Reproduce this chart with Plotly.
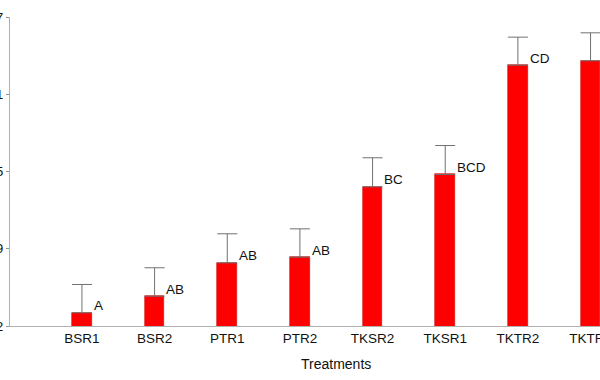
import plotly.graph_objects as go

treatments = ["BSR1", "BSR2", "PTR1", "PTR2", "TKSR2", "TKSR1", "TKTR2", "TKTR1"]
means = [3.07, 4.41, 7.11, 7.57, 13.26, 14.26, 23.10, 23.46]
errors = [2.29, 2.30, 2.35, 2.29, 2.35, 2.34, 2.27, 2.26]
letters = ["A", "AB", "AB", "AB", "BC", "BCD", "CD", ""]
tick_vals = [2, 8.25, 14.5, 20.75, 27]
tick_text = ["2", "9", "15", "21", "27"]

xpos = list(range(len(treatments)))
bar_w = 0.27

fig = go.Figure()
fig.add_trace(go.Bar(
    x=xpos, y=means, width=bar_w,
    marker=dict(color="#ff0000", line=dict(color="#d00000", width=0.6)),
    error_y=dict(type="data", array=errors, symmetric=False, arrayminus=[0]*len(errors),
                 color="#707070", thickness=1, width=10),
    showlegend=False,
))

for i, (m, e, t) in enumerate(zip(means, errors, letters)):
    if t:
        fig.add_annotation(x=i + bar_w / 2, y=m, text=t, showarrow=False,
                           xanchor="left", yanchor="middle", yshift=7,
                           font=dict(family="Liberation Sans, Arial", size=13.5, color="#111"))

fig.add_annotation(x=0.553, y=0, xref="paper", yref="paper", text="Treatments",
                   showarrow=False, xanchor="center", yanchor="middle", yshift=-38,
                   font=dict(family="Liberation Sans, Arial", size=14, color="#111"))

fig.update_layout(
    width=600, height=380,
    margin=dict(l=10, r=0, t=17, b=54),
    paper_bgcolor="white", plot_bgcolor="white",
    font=dict(family="Liberation Sans, Arial", size=13, color="#111"),
    bargap=0,
    xaxis=dict(range=[-0.99, 7.13], tickvals=xpos, ticktext=treatments,
               showline=True, linecolor="#b0b0b0", linewidth=1,
               ticks="", showgrid=False, zeroline=False,
               tickfont=dict(size=13.5), automargin=False,
               ticklabeloverflow="allow"),
    yaxis=dict(range=[2, 27], tickvals=tick_vals, ticktext=tick_text,
               showline=True, linecolor="#b0b0b0", linewidth=1,
               ticks="outside", ticklen=3, tickcolor="#909090",
               showgrid=False, zeroline=False, automargin=False,
               tickfont=dict(size=13.5), ticklabeloverflow="allow"),
)

fig.write_html("out.html")
